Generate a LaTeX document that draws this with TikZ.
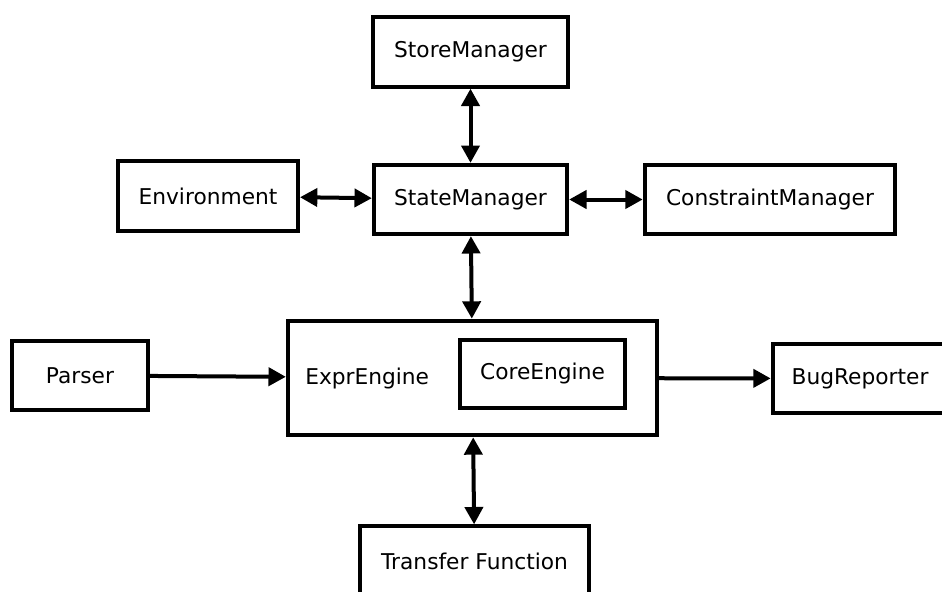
\documentclass[tikz,border=0pt]{standalone}
\usepackage{fontspec}
\setmainfont{DejaVu Sans}
\usetikzlibrary{arrows.meta}
\tikzset{
  blk/.style={draw=black, line width=3pt, fill=white, font=\fontsize{16.3}{19}\selectfont,
              minimum height=52pt, inner sep=0pt, align=center},
  arr/.style={-{Triangle[length=13pt,width=13.5pt]}, line width=3pt},
  darr/.style={{Triangle[length=13pt,width=13.5pt]}-{Triangle[length=13pt,width=13.5pt]}, line width=3pt},
}
\begin{document}
\begin{tikzpicture}[x=0.75pt,y=-0.75pt]
  \useasboundingbox (0,0) rectangle (942,592);
  \node[blk, minimum width=146pt]                      (store)  at (470.5,52)    {StoreManager};
  \node[blk, minimum width=135pt]                      (env)    at (208,196)     {Environment};
  \node[blk, minimum width=145pt]                      (state)  at (470.5,199.5) {StateManager};
  \node[blk, minimum width=188pt]                      (cons)   at (770,199.5)   {ConstraintManager};
  \node[blk, minimum width=102pt]                      (parser) at (80,375.5)    {Parser};
  \node[blk, minimum width=277pt, minimum height=86pt] (expr)   at (472.5,378)   {};
  \node[anchor=west, inner sep=0pt, font=\fontsize{16.3}{19}\selectfont]
                                                       (exprl)  at (305,378)     {ExprEngine};
  \node[blk, minimum width=124pt, minimum height=51pt] (core)   at (542.5,373.5) {CoreEngine};
  \node[blk, minimum width=131pt]                      (bug)    at (860,378.5)   {BugReporter};
  \node[blk, minimum width=172pt]                      (tf)     at (474.5,561)   {Transfer Function};
  % double-headed links
  \foreach \a/\b in {store/state, env/state, state/cons, state/expr, expr/tf}
    \draw[darr] (\a) -- (\b);
  % one-way links
  \foreach \a/\b in {parser/expr, expr/bug}
    \draw[arr] (\a) -- (\b);
\end{tikzpicture}
\end{document}
